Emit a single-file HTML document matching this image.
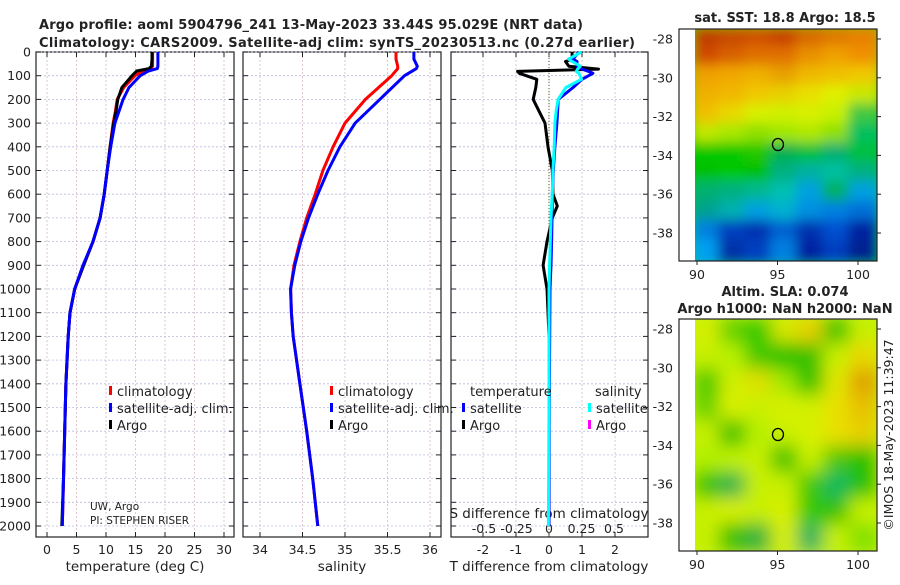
<!DOCTYPE html>
<html><head><meta charset="utf-8"><style>
body{margin:0;background:#fff}
svg text{font-family:"DejaVu Sans","Liberation Sans",sans-serif;fill:#222}
</style></head><body>
<svg id="c" width="900" height="580" viewBox="0 0 900 580" xmlns="http://www.w3.org/2000/svg">
<defs>
<filter id="bl" x="0" y="0" width="1" height="1"><feGaussianBlur stdDeviation="6"/></filter>
<filter id="bl2" x="0" y="0" width="1" height="1"><feGaussianBlur stdDeviation="9"/></filter>
<clipPath id="m1"><rect x="695" y="29" width="182" height="232"/></clipPath>
<clipPath id="m2"><rect x="695" y="319" width="182" height="232"/></clipPath>
</defs>
<text x="39" y="29" font-size="13" font-weight="bold" textLength="544">Argo profile: aoml 5904796_241 13-May-2023 33.44S 95.029E (NRT data)</text>
<text x="39" y="47" font-size="13" font-weight="bold" textLength="596">Climatology: CARS2009. Satellite-adj clim: synTS_20230513.nc (0.27d earlier)</text>
<g id="g"></g>
</svg>
<script>
// ---- data ----
const depthT = [0,30,60,70,80,100,150,200,250,300,400,500,600,700,800,900,1000,1100,1200,1400,1600,1800,2000];
const tempArgo = [17.8,17.8,17.7,17.3,15.2,14.4,12.7,12.0,11.7,11.3,10.7,10.2,9.7,9.0,7.8,6.2,4.7,3.9,3.6,3.2,3.0,2.8,2.5];
const tempClim = [17.9,17.9,17.9,17.6,16.2,14.9,13.0,11.9,11.6,11.2,10.7,10.2,9.7,9.0,7.8,6.2,4.7,3.9,3.6,3.2,3.0,2.8,2.6];
const tempSat  = [18.8,18.8,18.8,18.7,17.2,15.8,13.9,12.9,12.2,11.5,10.8,10.2,9.7,9.0,7.8,6.1,4.7,3.9,3.6,3.2,3.0,2.8,2.6];
const depthS = [0,30,60,70,100,200,300,400,500,600,700,800,900,1000,1100,1200,1400,1600,1800,2000];
const salClim = [35.60,35.60,35.62,35.62,35.55,35.24,35.0,34.86,34.74,34.65,34.55,34.47,34.40,34.36,34.37,34.39,34.47,34.55,34.62,34.68];
const salSat  = [35.81,35.81,35.85,35.84,35.70,35.41,35.12,34.94,34.80,34.68,34.57,34.48,34.41,34.36,34.37,34.39,34.47,34.55,34.62,34.68];
const depthD = [0,30,40,60,72,82,90,115,150,200,250,300,400,500,600,650,700,800,900,1000,1200,1500,2000];
const dTArgo = [0.7,0.7,0.5,0.6,1.5,-0.95,-0.9,-0.37,-0.4,-0.48,-0.3,-0.12,-0.03,0.1,0.12,0.25,0.1,-0.06,-0.18,-0.06,0,0,0];
const dTSat  = [0.9,0.73,0.85,0.85,1.0,1.2,1.33,1.0,0.73,0.28,0.26,0.24,0.18,0.13,0.1,0.1,0.09,0.08,0.06,0.03,0.02,0.01,0];
const dSSat  = [0.25,0.15,0.18,0.24,0.22,0.21,0.23,0.25,0.13,0.07,0.055,0.045,0.04,0.03,0.025,0.02,0.015,0.01,0.005,0,0,0,-0.005];
const depthTicks = [0,100,200,300,400,500,600,700,800,900,1000,1100,1200,1300,1400,1500,1600,1700,1800,1900,2000];
const tTicks = [0,5,10,15,20,25,30];
const sTicks = [34,34.5,35,35.5,36];
const dtTicks = [-2,-1,0,1,2];
const dsTicks = [-0.5,-0.25,0,0.25,0.5];
const latTicks = [-28,-30,-32,-34,-36,-38];
const lonTicks = [90,95,100];
const argoLon = 95.029, argoLat = -33.44;

const NS="http://www.w3.org/2000/svg";
const G=document.getElementById('g');
function el(t,a,p){const e=document.createElementNS(NS,t);for(const k in a)e.setAttribute(k,a[k]);(p||G).appendChild(e);return e;}
function txt(s,a,p){const e=el('text',a,p);e.textContent=s;return e;}
const yD = d => 52 + d*0.237;
const xT = t => 47 + t*5.9;
const xS = s => 345 + (s-35)*85;
const xdT = v => 549 + v*33;
const xdS = v => 549 + v*130;
const panels=[[36,234],[243,441],[451,648]];
const yTop=52,yBot=537;

panels.forEach((p,i)=>{
  const fr=el('rect',{x:p[0],y:yTop,width:p[1]-p[0],height:yBot-yTop,fill:'#fff',stroke:'#222','stroke-width':1.2});
  
  
  depthTicks.forEach(d=>{
    el('line',{x1:p[0],x2:p[1],y1:yD(d),y2:yD(d),stroke:'#b8bce0','stroke-width':0.8,'stroke-dasharray':'2,2'});
    el('line',{x1:p[0],x2:p[0]+5,y1:yD(d),y2:yD(d),stroke:'#222'});
    el('line',{x1:p[1]-5,x2:p[1],y1:yD(d),y2:yD(d),stroke:'#222'});
  });
});
depthTicks.forEach(d=>{const t=txt(d,{x:31,y:yD(d)+4.5,'font-size':12.5,'text-anchor':'end'});
});
function xgrid(ticks,f,p,ylab){
  ticks.forEach(v=>{const x=f(v);
    el('line',{x1:x,x2:x,y1:yTop,y2:yBot,stroke:'#d8b8c0','stroke-width':0.8,'stroke-dasharray':'2,2'});
    el('line',{x1:x,x2:x,y1:yBot-5,y2:yBot,stroke:'#222'});el('line',{x1:x,x2:x,y1:yTop,y2:yTop+5,stroke:'#222'});
    const t=txt(v,{x:x,y:ylab,'font-size':12.5,'text-anchor':'middle'});
    
  });
}
xgrid(tTicks,xT,panels[0],554);
xgrid(sTicks,xS,panels[1],554);
xgrid(dtTicks,xdT,panels[2],554);
dsTicks.forEach(v=>{const t=txt(v,{x:xdS(v),y:533,'font-size':12.5,'text-anchor':'middle'});
});
el('line',{x1:549,x2:549,y1:yTop,y2:yBot,stroke:'#4a6a2a','stroke-dasharray':'1,2'});
[['temperature (deg C)',135],['salinity',342],['T difference from climatology',549]].forEach(a=>{
  const t=txt(a[0],{x:a[1],y:571,'font-size':13.5,'text-anchor':'middle'});
  });
let t0=txt('S difference from climatology',{x:549,y:518,'font-size':13.5,'text-anchor':'middle'});


function line(xs,ds,fx,col,w,name){
  const pts=xs.map((v,i)=>fx(v).toFixed(1)+','+yD(ds[i]).toFixed(1)).join(' ');
  const e=el('polyline',{points:pts,fill:'none',stroke:col,'stroke-width':w,'stroke-linejoin':'round'});
  
}
line(tempClim,depthT,xT,'#f00',3,'temp-climatology-line');
line(tempArgo,depthT,xT,'#000',3,'temp-argo-line');
line(tempSat,depthT,xT,'#00f',3,'temp-satellite-line');
line(salClim,depthS,xS,'#f00',3,'sal-climatology-line');
line(salSat,depthS,xS,'#00f',3,'sal-satellite-line');
line(dTArgo,depthD,xdT,'#000',3,'dt-argo-line');
line(dTSat,depthD,xdT,'#00f',3,'dt-satellite-line');
line(dSSat,depthD,xdS,'#0ff',3,'ds-satellite-line');

function leg(x,y,col,label){
  el('rect',{x:x,y:y-10,width:3,height:9,fill:col});
  const t=txt(label,{x:x+8,y:y,'font-size':13});
  
}
leg(109,396,'#f00','climatology');leg(109,413,'#00f','satellite-adj. clim.');leg(109,430,'#000','Argo');
leg(330,396,'#f00','climatology');leg(330,413,'#00f','satellite-adj. clim.');leg(330,430,'#000','Argo');
txt('temperature',{x:470,y:396,'font-size':13});txt('salinity',{x:595,y:396,'font-size':13});
leg(462,413,'#00f','satellite');leg(462,430,'#000','Argo');
leg(588,413,'#0ff','satellite');leg(588,430,'#f0f','Argo');
txt('UW, Argo',{x:90,y:510,'font-size':10.5});txt('PI: STEPHEN RISER',{x:90,y:524,'font-size':10.5});

// ---- maps ----
const sstGrid=[
['#c03c00','#c84800','#d05000','#c84000','#d86800','#e07800','#e88000'],
['#d04800','#d86000','#e07000','#e07000','#e89000','#f0a000','#f09000'],
['#f0a000','#f0a800','#f0b000','#e8a000','#f0b800','#f0c000','#f0c800'],
['#f0b000','#f0b800','#f0c800','#e8d000','#e8e000','#e0f000','#c8e800'],
['#f0c000','#e8d800','#d8f000','#d0f000','#d8f000','#c8f000','#40c840'],
['#c0e800','#a8e800','#90e000','#a0e800','#b0e800','#90e000','#00c060'],
['#00c800','#00c800','#20c800','#00b050','#00c040','#00b070','#00c040'],
['#00c000','#00c800','#00c000','#00b080','#00b0a0','#00c0a0','#00b080'],
['#00b070','#00b080','#00b890','#00c0b0','#00a0e0','#00b060','#00a0e0'],
['#00a090','#00b0b0','#00a0e0','#00b0d0','#0090e0','#0080e0','#0070d8'],
['#0080e0','#0040c0','#0030b0','#0060d0','#0030b0','#0050d0','#0020a0'],
['#00a0f0','#0030a8','#0040c0','#0080e0','#0020a0','#0040c0','#002090']];
const g1=el('g',{'clip-path':'url(#m1)'});
const g1b=el('g',{filter:'url(#bl)'},g1);
el('rect',{x:680,y:15,width:215,height:260,fill:'#00c800'},g1b);
sstGrid.forEach((r,i)=>r.forEach((c,j)=>el('rect',{x:695+j*26-3,y:29+i*19.4-3,width:32,height:26,fill:c},g1b)));
const sla=[['#d8f000','#60d000','#20c800','#d8e800','#e8d000','#20c000','#c8f000'],
['#c8f000','#b8f000','#40c800','#10c000','#30c000','#c8f000','#e8d800'],
['#40c800','#d0f000','#e0e000','#a0e800','#20c000','#e0e800','#e0a000'],
['#60d000','#d8f000','#c8f000','#d8f000','#d0f000','#e8e000','#e8c000'],
['#c8f000','#30c000','#b8f000','#c8f000','#d8f000','#e8e000','#e8d000'],
['#b0f000','#c0f000','#c8f000','#30c000','#c8f000','#50c800','#20c000'],
['#30c000','#10b050','#c8f000','#c8f000','#40c800','#00b860','#20c000'],
['#c8f000','#d8f000','#c8f000','#d8f000','#30c800','#30c000','#c8f000'],
['#c8f000','#30c000','#20b040','#d8f000','#20b060','#c8f000','#80e000']];
const g2=el('g',{'clip-path':'url(#m2)'});
const g2b=el('g',{filter:'url(#bl2)'},g2);
el('rect',{x:680,y:305,width:215,height:260,fill:'#c0f000'},g2b);
sla.forEach((r,i)=>r.forEach((c,j)=>el('rect',{x:695+j*26-2,y:319+i*25.8-2,width:30,height:30,fill:c},g2b)));
function mapAxes(y0,y1,lat0){
  el('rect',{x:679,y:y0,width:198,height:y1-y0,fill:'none',stroke:'#222','stroke-width':1.2});
  const fx=l=>697+(l-90)*16.1, fy=l=>lat0+(-28-l)*19.4;
  latTicks.forEach(l=>{el('line',{x1:877,x2:881,y1:fy(l),y2:fy(l),stroke:'#222'});
    const t=txt(l,{x:673,y:fy(l)+4.5,'font-size':12.5,'text-anchor':'end'});
    });
  lonTicks.forEach(l=>{el('line',{x1:fx(l),x2:fx(l),y1:y1,y2:y1+4,stroke:'#222'});
    const t=txt(l,{x:fx(l),y:y1+18,'font-size':12.5,'text-anchor':'middle'});
    });
  const c=el('ellipse',{cx:fx(argoLon),cy:fy(argoLat),rx:5.5,ry:6,fill:'none',stroke:'#000','stroke-width':1.3});
  
}
mapAxes(29,261,39);mapAxes(319,551,329);
txt('sat. SST: 18.8 Argo: 18.5',{x:785,y:22,'font-size':13,'font-weight':'bold','text-anchor':'middle'});
txt('Altim. SLA: 0.074',{x:785,y:296,'font-size':13,'font-weight':'bold','text-anchor':'middle'});
txt('Argo h1000: NaN h2000: NaN',{x:785,y:313,'font-size':13,'font-weight':'bold','text-anchor':'middle'});
const ts=txt('©IMOS 18-May-2023 11:39:47',{x:0,y:0,'font-size':12.5,'text-anchor':'middle',transform:'translate(893,435) rotate(-90)'});

</script>
</body></html>
